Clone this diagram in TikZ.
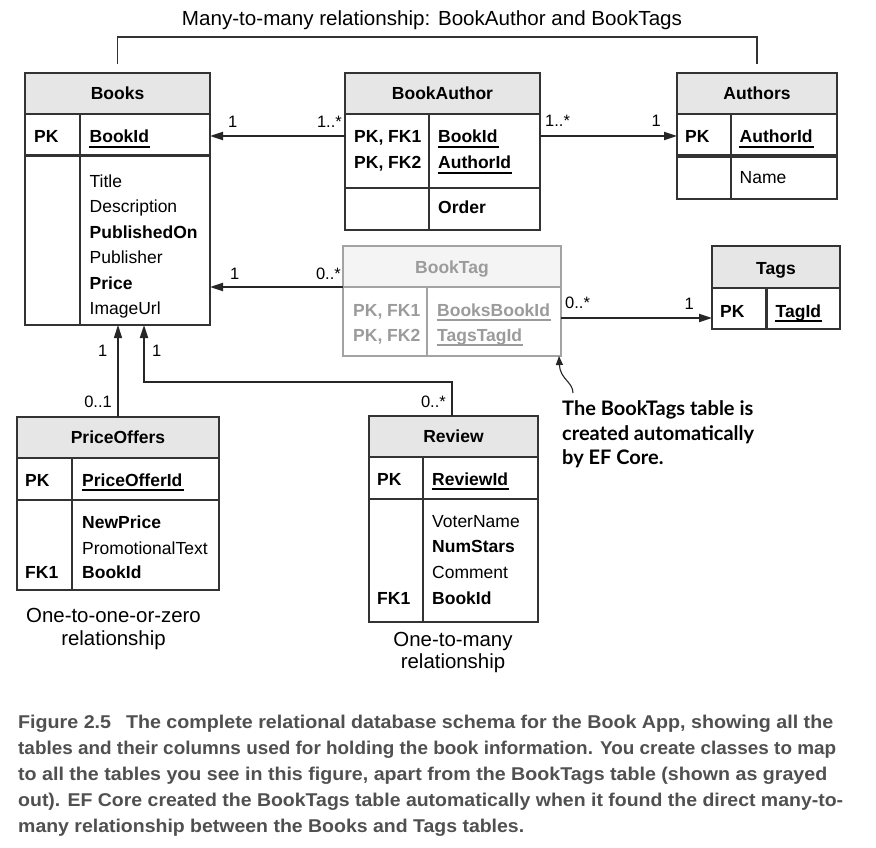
\documentclass[tikz,border=0pt]{standalone}
\usepackage{fontspec}
\setmainfont{Liberation Sans}
\newfontfamily\notefont{Lato}
\newfontfamily\capfont{Liberation Sans}
\usetikzlibrary{arrows.meta}
\definecolor{linec}{HTML}{333333}
\definecolor{hdrfill}{HTML}{E6E6E6}
\definecolor{greyline}{HTML}{A3A3A3}
\definecolor{greyfill}{HTML}{F4F4F4}
\definecolor{greytext}{HTML}{9B9B9B}
\definecolor{captext}{HTML}{505050}
\newcommand\ulfield[5]{%
  \node[btxt, text=#5] (#1) at (#2,#3) {#4};
  \draw[ulline, draw=#5] ([yshift=-4pt, xshift=-0.5pt]#1.base west) -- ([yshift=-4pt, xshift=1pt]#1.base east);
}
\begin{document}
\begin{tikzpicture}[x=1pt,y=-1pt,
  tblbox/.style={draw=linec, line width=1.5pt, inner sep=0pt, outer sep=0pt, rectangle},
  gtblbox/.style={tblbox, draw=greyline},
  hdrbox/.style={fill=hdrfill, draw=none, inner sep=0pt, outer sep=0pt, rectangle},
  ghdrbox/.style={hdrbox, fill=greyfill},
  sep/.style={draw=linec, line width=1.5pt},
  gsep/.style={draw=greyline, line width=1.5pt},
  thicksep/.style={draw=linec, line width=3.2pt},
  txt/.style={anchor=base west, inner sep=0pt, font=\fontsize{17.5}{21}\selectfont, text=black},
  btxt/.style={anchor=base west, inner sep=0pt, font=\fontsize{17.5}{21}\selectfont\bfseries, text=black},
  gtxt/.style={btxt, text=greytext},
  htxt/.style={anchor=base, inner sep=0pt, font=\fontsize{17.5}{21}\selectfont\bfseries, text=black},
  ulline/.style={line width=1.6pt},
  conn/.style={draw=black!85, line width=2pt, -{Triangle[length=13pt,width=8pt]}},
  thinconn/.style={conn, line width=1.1pt},
  lbl/.style={inner sep=0pt, font=\fontsize{16.5}{20}\selectfont, text=black},
  brk/.style={draw=linec, line width=1.3pt},
  reltxt/.style={anchor=base, inner sep=0pt, font=\fontsize{20.4}{24}\selectfont, text=black},
  notetxt/.style={anchor=base west, inner sep=0pt, font=\notefont\bfseries\fontsize{20}{24}\selectfont, text=black},
  notearrow/.style={draw=black!85, line width=1.1pt, -{Triangle[length=9pt,width=7pt]}},
  captxt/.style={anchor=base west, inner sep=0pt, font=\capfont\bfseries\fontsize{18.5}{22}\selectfont, text=captext}
]
\fill[white] (0,0) rectangle (876,848);
\useasboundingbox (0,0) rectangle (876,848);

% ---------- Title ----------
\node[reltxt] (title) at (432,26) {\resizebox{500pt}{\height}{Many-to-many relationship: BookAuthor and BookTags}};

% ---------- Books ----------
\node[hdrbox, minimum width=185, minimum height=41, anchor=north west] (books-h) at (25,73) {};
\draw[sep] (80,114) -- (80,325);
\draw[sep] (25,114) -- (210,114);
\draw[thicksep] (25,155.5) -- (210,155.5);
\node[tblbox, minimum width=185, minimum height=252, anchor=north west] (books) at (25,73) {};
\node[htxt] (books-t) at (117.5,100) {Books};
\node[btxt] (books-pk) at (34,143) {PK};
\ulfield{books-id}{89.5}{143}{BookId}{black}
\node[txt] (books-f1) at (89.5,187) {Title};
\node[txt] (books-f2) at (89.5,212.5) {Description};
\node[btxt] (books-f3) at (89.5,238) {PublishedOn};
\node[txt] (books-f4) at (89.5,263.5) {Publisher};
\node[btxt] (books-f5) at (89.5,289) {Price};
\node[txt] (books-f6) at (89.5,314.5) {ImageUrl};

% ---------- BookAuthor ----------
\node[hdrbox, minimum width=195, minimum height=41, anchor=north west] (ba-h) at (345,73) {};
\draw[sep] (429,114) -- (429,230);
\draw[sep] (345,114) -- (540,114);
\draw[sep] (345,188) -- (540,188);
\node[tblbox, minimum width=195, minimum height=157, anchor=north west] (ba) at (345,73) {};
\node[htxt] (ba-t) at (442.5,100) {BookAuthor};
\node[btxt] (ba-k1) at (354,143) {PK, FK1};
\node[btxt] (ba-k2) at (354,169) {PK, FK2};
\ulfield{ba-f1}{438}{143}{BookId}{black}
\ulfield{ba-f2}{438}{169}{AuthorId}{black}
\node[btxt] (ba-f3) at (438,214) {Order};

% ---------- Authors ----------
\node[hdrbox, minimum width=160, minimum height=41, anchor=north west] (au-h) at (677,73) {};
\draw[sep] (731,114) -- (731,199);
\draw[sep] (677,114) -- (837,114);
\draw[thicksep] (677,156) -- (837,156);
\node[tblbox, minimum width=160, minimum height=126, anchor=north west] (authors) at (677,73) {};
\node[htxt] (au-t) at (757,100) {Authors};
\node[btxt] (au-pk) at (685,143) {PK};
\ulfield{au-id}{739.5}{143}{AuthorId}{black}
\node[txt] (au-f1) at (739.5,184) {Name};

% ---------- BookTag (greyed) ----------
\node[ghdrbox, minimum width=218, minimum height=41, anchor=north west] (bt-h) at (343,246) {};
\draw[gsep] (427,287) -- (427,356);
\draw[gsep] (343,287) -- (561,287);
\node[gtblbox, minimum width=218, minimum height=110, anchor=north west] (booktag) at (343,246) {};
\node[htxt, text=greytext] (bt-t) at (452,273) {BookTag};
\node[gtxt] (bt-k1) at (353,316) {PK, FK1};
\node[gtxt] (bt-k2) at (353,341) {PK, FK2};
\ulfield{bt-f1}{437}{316}{BooksBookId}{greytext}
\ulfield{bt-f2}{437}{341}{TagsTagId}{greytext}

% ---------- Tags ----------
\node[hdrbox, minimum width=128, minimum height=42, anchor=north west] (tg-h) at (712,246) {};
\draw[sep, line width=3pt] (766,288) -- (766,329);
\draw[sep] (712,288) -- (840,288);
\node[tblbox, minimum width=128, minimum height=83, anchor=north west] (tags) at (712,246) {};
\node[htxt] (tg-t) at (776,274) {Tags};
\node[btxt] (tg-pk) at (720,317) {PK};
\ulfield{tg-id}{775.5}{317}{TagId}{black}

% ---------- PriceOffers ----------
\node[hdrbox, minimum width=202, minimum height=41, anchor=north west] (po-h) at (17,417) {};
\draw[sep] (72,458) -- (72,590);
\draw[sep] (17,458) -- (219,458);
\draw[sep] (17,500) -- (219,500);
\node[tblbox, minimum width=202, minimum height=173, anchor=north west] (priceoffers) at (17,417) {};
\node[htxt] (po-t) at (118,443) {PriceOffers};
\node[btxt] (po-pk) at (25,486) {PK};
\ulfield{po-id}{82}{486}{PriceOfferId}{black}
\node[btxt] (po-f1) at (82,528) {NewPrice};
\node[txt] (po-f2) at (82,554) {PromotionalText};
\node[btxt] (po-fk) at (25,578) {FK1};
\node[btxt] (po-f3) at (82,578) {BookId};

% ---------- Review ----------
\node[hdrbox, minimum width=169, minimum height=41, anchor=north west] (rv-h) at (369,416) {};
\draw[sep] (423,457) -- (423,622);
\draw[sep] (369,457) -- (538,457);
\draw[sep] (369,499) -- (538,499);
\node[tblbox, minimum width=169, minimum height=206, anchor=north west] (review) at (369,416) {};
\node[htxt] (rv-t) at (453.5,442) {Review};
\node[btxt] (rv-pk) at (377,485) {PK};
\ulfield{rv-id}{432}{485}{ReviewId}{black}
\node[txt] (rv-f1) at (432,527) {VoterName};
\node[btxt] (rv-f2) at (432,552.5) {NumStars};
\node[txt] (rv-f3) at (432,578) {Comment};
\node[btxt] (rv-fk) at (377,604) {FK1};
\node[btxt] (rv-f4) at (432,604) {BookId};

% ---------- relationship captions ----------
\node[reltxt] (rel1a) at (113.5,622) {One-to-one-or-zero};
\node[reltxt] (rel1b) at (113.5,645) {relationship};
\node[reltxt] (rel2a) at (453,646) {One-to-many};
\node[reltxt] (rel2b) at (453,668) {relationship};

% ---------- bracket ----------
\coordinate (brk) at (0,37);
\draw[brk] ([yshift=9pt]books.north) -- (books.north |- brk) -- (authors.north |- brk) -- ([yshift=9pt]authors.north);

% ---------- connectors ----------
\coordinate (r1) at (0,136);
\coordinate (r2) at (0,287);
\coordinate (r3) at (0,318);
\coordinate (j1) at (144,382);
\draw[conn] (ba.west |- r1) -- (books.east |- r1);
\draw[conn] (booktag.west |- r2) -- (books.east |- r2);
\draw[conn] (ba.east |- r1) -- (authors.west |- r1);
\draw[conn] (booktag.east |- r3) -- (tags.west |- r3);
\draw[thinconn] (priceoffers.north) -- (books.south -| priceoffers.north);
\draw[conn] ([xshift=-1.5pt]review.north) |- (j1) -- (books.south -| j1);

% ---------- multiplicity labels ----------
\node[lbl, anchor=base west] (m1) at (228,128) {1};
\node[lbl, anchor=base east] (m2) at (342,128) {1..*};
\node[lbl, anchor=base west] (m3) at (230,279) {1};
\node[lbl, anchor=base east] (m4) at (341,279) {0..*};
\node[lbl, anchor=base west] (m5) at (545,127) {1..*};
\node[lbl, anchor=base east] (m6) at (661,127) {1};
\node[lbl, anchor=base west] (m7) at (565,308) {0..*};
\node[lbl, anchor=base east] (m8) at (694,309) {1};
\node[lbl, anchor=base east] (m9) at (112,407) {0..1};
\node[lbl, anchor=base west] (m10) at (98,356) {1};
\node[lbl, anchor=base west] (m11) at (152,356) {1};
\node[lbl, anchor=base east] (m12) at (446,407) {0..*};

% ---------- annotation ----------
\node[notetxt] (note1) at (562,415) {The BookTags table is};
\node[notetxt] (note2) at (562,440) {created automatically};
\node[notetxt] (note3) at (562,464) {by EF Core.};
\coordinate (nstart) at (573,393);
\draw[notearrow] (nstart) .. controls (573,382) and (560,379) .. ([xshift=-2pt]booktag.south east);

% ---------- figure caption ----------
\node[captxt] (cap1) at (18,728) {\resizebox{815pt}{\height}{Figure 2.5\hspace{14pt}The complete relational database schema for the Book App, showing all the}};
\node[captxt] (cap2) at (18,754) {\resizebox{818pt}{\height}{tables and their columns used for holding the book information. You create classes to map}};
\node[captxt] (cap3) at (18,780) {\resizebox{809pt}{\height}{to all the tables you see in this figure, apart from the BookTags table (shown as grayed}};
\node[captxt] (cap4) at (18,806) {\resizebox{825pt}{\height}{out). EF Core created the BookTags table automatically when it found the direct many-to-}};
\node[captxt] (cap5) at (18,832) {\resizebox{506pt}{\height}{many relationship between the Books and Tags tables.}};
\end{tikzpicture}
\end{document}
